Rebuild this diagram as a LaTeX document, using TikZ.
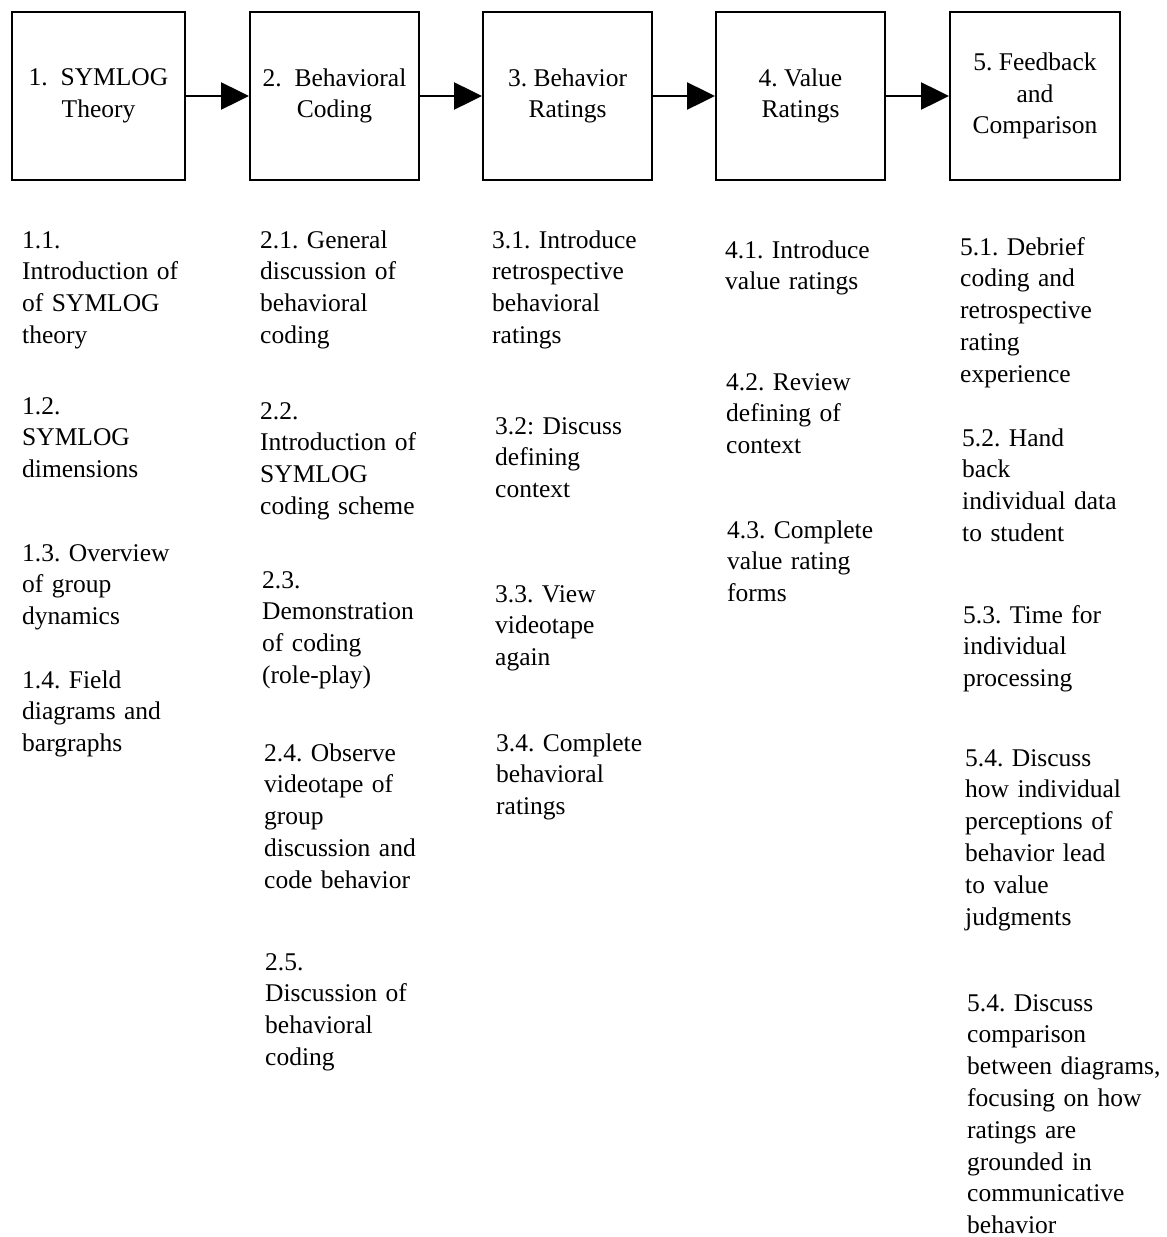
\documentclass[tikz,border=0pt]{standalone}
\usepackage{fontspec}
\setmainfont{Liberation Serif}
\usetikzlibrary{arrows.meta}
\frenchspacing
\begin{document}
\begin{tikzpicture}[x=1pt,y=-1pt,
  stage/.style={draw,line width=2pt,minimum height=168pt,inner sep=0pt,align=center,
    font=\fontsize{25.5}{31.5}\selectfont},
  item/.style={anchor=base west,inner sep=0pt,text width=215pt,align=left,
    font=\fontsize{25.5}{31.8}\selectfont},
  flow/.style={line width=2.5pt,-{Triangle[length=28pt,width=27pt]}}]
\useasboundingbox (0,0) rectangle (1167,1237);
% stages
\node[stage,minimum width=173pt] (s1) at (98.5,96) {1.\ \ SYMLOG\\Theory};
\node[stage,minimum width=169pt] (s2) at (334.5,96) {2.\ \ Behavioral\\Coding};
\node[stage,minimum width=169pt] (s3) at (567.5,96) {3. Behavior\\Ratings};
\node[stage,minimum width=169pt] (s4) at (800.5,96) {4. Value\\Ratings};
\node[stage,minimum width=170pt] (s5) at (1035,96) {5. Feedback\\and\\Comparison};
\draw[flow] (s1) -- (s2);
\draw[flow] (s2) -- (s3);
\draw[flow] (s3) -- (s4);
\draw[flow] (s4) -- (s5);
% column 1
\node[item] (i11) at (22,248) {1.1.\\Introduction of\\of SYMLOG\\theory};
\node[item] (i12) at (22,414) {1.2.\\SYMLOG\\dimensions};
\node[item] (i13) at (22,561) {1.3. Overview\\of group\\dynamics};
\node[item] (i14) at (22,688) {1.4. Field\\diagrams and\\bargraphs};
% column 2
\node[item] (i21) at (260,248) {2.1. General\\discussion of\\behavioral\\coding};
\node[item] (i22) at (260,419) {2.2.\\Introduction of\\SYMLOG\\coding scheme};
\node[item] (i23) at (262,588) {2.3.\\Demonstration\\of coding\\(role-play)};
\node[item] (i24) at (264,761) {2.4. Observe\\videotape of\\group\\discussion and\\code behavior};
\node[item] (i25) at (265,970) {2.5.\\Discussion of\\behavioral\\coding};
% column 3
\node[item] (i31) at (492,248) {3.1. Introduce\\retrospective\\behavioral\\ratings};
\node[item] (i32) at (495,434) {3.2: Discuss\\defining\\context};
\node[item] (i33) at (495,602) {3.3. View\\videotape\\again};
\node[item] (i34) at (496,751) {3.4. Complete\\behavioral\\ratings};
% column 4
\node[item] (i41) at (725,258) {4.1. Introduce\\value ratings};
\node[item] (i42) at (726,390) {4.2. Review\\defining of\\context};
\node[item] (i43) at (727,538) {4.3. Complete\\value rating\\forms};
% column 5
\node[item] (i51) at (960,255) {5.1. Debrief\\coding and\\retrospective\\rating\\experience};
\node[item] (i52) at (962,446) {5.2. Hand\\back\\individual data\\to student};
\node[item] (i53) at (963,623) {5.3. Time for\\individual\\processing};
\node[item] (i54) at (965,766) {5.4. Discuss\\how individual\\perceptions of\\behavior lead\\to value\\judgments};
\node[item] (i55) at (967,1011) {5.4. Discuss\\comparison\\between diagrams,\\focusing on how\\ratings are\\grounded in\\communicative\\behavior};
\end{tikzpicture}
\end{document}
